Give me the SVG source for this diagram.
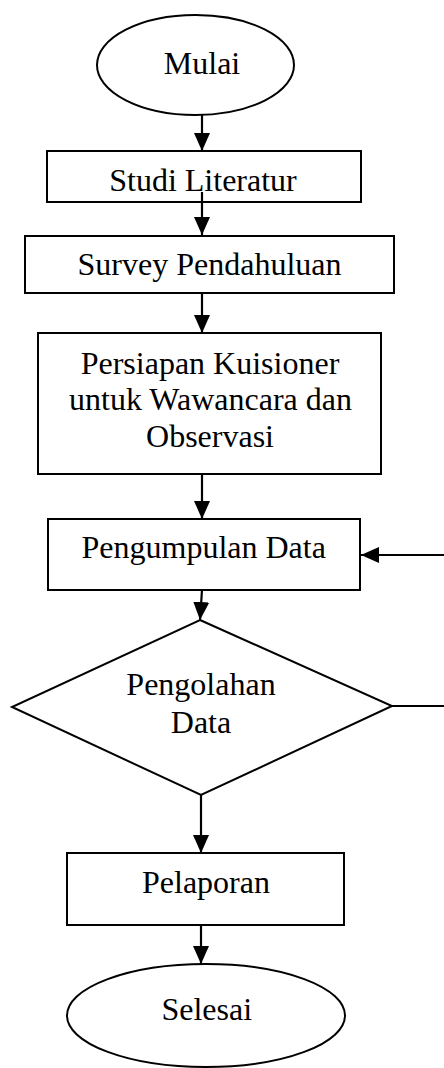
<svg xmlns="http://www.w3.org/2000/svg" width="444" height="1068" viewBox="0 0 444 1068">
<style>
.shape{fill:#fff;stroke:#000;stroke-width:2}
.lbl{font-family:"Liberation Serif","Times New Roman",serif;font-size:32px;fill:#000;text-anchor:middle}
.conn{fill:none;stroke:#000;stroke-width:2.2;marker-end:url(#arr)}
</style>
<defs>
<marker id="arr" markerUnits="userSpaceOnUse" viewBox="0 0 18 16" refX="18" refY="8" markerWidth="18" markerHeight="16" orient="auto">
<path d="M0,0 L18,8 L0,16 z" fill="#000"/>
</marker>
</defs>
<rect width="444" height="1068" fill="#fff"/>
<g id="mulai">
<ellipse class="shape" cx="195.5" cy="65" rx="98.5" ry="50"/>
<text class="lbl" x="202" y="74">Mulai</text>
</g>
<g id="studi">
<rect class="shape" x="47" y="151" width="314" height="51"/>
<text class="lbl" x="203" y="191">Studi Literatur</text>
</g>
<g id="survey">
<rect class="shape" x="25" y="236" width="369" height="57"/>
<text class="lbl" x="209.5" y="275">Survey Pendahuluan</text>
</g>
<g id="persiapan">
<rect class="shape" x="38" y="333" width="343" height="141"/>
<text class="lbl" x="210" y="374">Persiapan Kuisioner</text>
<text class="lbl" x="210.5" y="410">untuk Wawancara dan</text>
<text class="lbl" x="210" y="447">Observasi</text>
</g>
<g id="pengumpulan">
<rect class="shape" x="48" y="519" width="312" height="71"/>
<text class="lbl" x="203.7" y="558">Pengumpulan Data</text>
</g>
<g id="pengolahan">
<polygon class="shape" points="200,620 392,706 201,795 12,707"/>
<text class="lbl" x="201" y="695">Pengolahan</text>
<text class="lbl" x="201" y="733">Data</text>
</g>
<g id="pelaporan">
<rect class="shape" x="67" y="853" width="277" height="72"/>
<text class="lbl" x="206" y="893">Pelaporan</text>
</g>
<g id="selesai">
<ellipse class="shape" cx="206" cy="1015.5" rx="139" ry="51.5"/>
<text class="lbl" x="206.7" y="1020">Selesai</text>
</g>
<g id="connectors">
<path class="conn" d="M202,115 L202,151"/>
<path class="conn" d="M202,192 L202,235"/>
<path class="conn" d="M202,293 L202,333"/>
<path class="conn" d="M202,474 L202,519"/>
<path class="conn" d="M202,590 L200,620"/>
<path class="conn" d="M201,795 L201,853"/>
<path class="conn" d="M201,925 L201,964"/>
<path class="conn" d="M392,706 L447,706 L447,555 L361,555"/>
</g>
</svg>
